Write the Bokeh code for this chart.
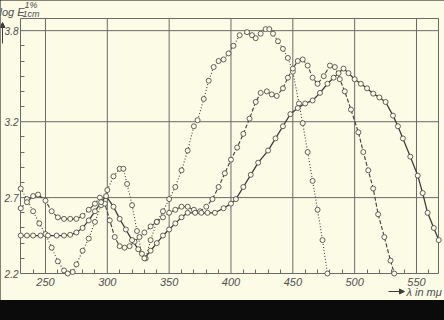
from bokeh.plotting import figure
from bokeh.models import Range1d, FixedTicker, Label, Arrow, NormalHead
from bokeh.embed import file_html
from bokeh.resources import INLINE

# ---- data (wavelength in m\u03bc, log E 1%/1cm) ----
dotted_nm = [230, 235, 240, 245, 250, 255, 260, 265, 268, 272, 275, 280, 285, 290, 295,
             300, 305, 310, 313, 316, 320, 324, 328, 331, 335, 340, 345, 350, 355, 360,
             365, 370, 373, 378, 382, 386, 390, 394, 398, 402, 407, 413, 417, 420, 424,
             428, 431, 434, 438, 442, 446, 450, 455, 458, 462, 466, 470, 474, 478]
dotted_val = [2.76, 2.69, 2.61, 2.53, 2.46, 2.37, 2.28, 2.22, 2.20, 2.21, 2.26, 2.35, 2.43, 2.54, 2.65,
              2.75, 2.84, 2.89, 2.89, 2.79, 2.65, 2.48, 2.33, 2.30, 2.42, 2.54, 2.61, 2.69, 2.77, 2.88,
              3.01, 3.17, 3.21, 3.35, 3.47, 3.56, 3.60, 3.61, 3.65, 3.70, 3.77, 3.79, 3.77, 3.75, 3.78,
              3.81, 3.81, 3.78, 3.73, 3.68, 3.62, 3.53, 3.32, 3.19, 3.00, 2.81, 2.62, 2.42, 2.20]

dashed_nm = [230, 235, 240, 244, 250, 255, 260, 265, 270, 275, 280, 285, 290, 294, 298,
             302, 306, 310, 314, 318, 322, 326, 330, 335, 340, 345, 350, 355, 360, 365,
             370, 375, 380, 385, 390, 395, 400, 405, 410, 415, 420, 424, 429, 433, 437,
             442, 446, 450, 454, 458, 462, 466, 470, 475, 480, 484, 488, 492, 497, 503,
             507, 511, 515, 519, 524, 529, 532]
dashed_val = [2.63, 2.67, 2.71, 2.72, 2.68, 2.61, 2.57, 2.56, 2.56, 2.56, 2.58, 2.62, 2.66, 2.70, 2.66,
              2.55, 2.44, 2.38, 2.37, 2.38, 2.41, 2.44, 2.47, 2.51, 2.54, 2.57, 2.60, 2.62, 2.64, 2.64,
              2.62, 2.61, 2.64, 2.69, 2.77, 2.86, 2.95, 3.03, 3.12, 3.22, 3.33, 3.39, 3.40, 3.38, 3.37,
              3.42, 3.49, 3.55, 3.60, 3.61, 3.57, 3.49, 3.45, 3.50, 3.57, 3.56, 3.48, 3.40, 3.28, 3.13,
              3.00, 2.88, 2.76, 2.59, 2.44, 2.285, 2.20]

solid_nm = [230, 235, 240, 246, 252, 259, 265, 270, 275, 280, 285, 290, 295, 299, 305,
            310, 315, 320, 325, 330, 335, 340, 345, 350, 355, 360, 365, 371, 376, 381,
            387, 394, 400, 404, 410, 416, 422, 430, 436, 442, 448, 454, 460, 466, 472,
            478, 483, 487, 491, 495, 500, 505, 510, 515, 520, 525, 531, 535, 539, 545,
            551, 555, 559, 564, 568]
solid_val = [2.45, 2.45, 2.45, 2.45, 2.45, 2.45, 2.45, 2.455, 2.47, 2.50, 2.55, 2.61, 2.67, 2.71, 2.64,
             2.56, 2.49, 2.42, 2.36, 2.30, 2.35, 2.40, 2.45, 2.49, 2.53, 2.57, 2.60, 2.60, 2.60, 2.60,
             2.60, 2.63, 2.66, 2.69, 2.77, 2.85, 2.93, 3.01, 3.09, 3.17, 3.25, 3.29, 3.32, 3.34, 3.39,
             3.45, 3.49, 3.52, 3.55, 3.52, 3.48, 3.45, 3.42, 3.385, 3.36, 3.33, 3.24, 3.17, 3.09, 2.97,
             2.845, 2.73, 2.60, 2.50, 2.42]

x_ticks = [250, 300, 350, 400, 450, 500, 550]
x_minor = [240, 260, 270, 280, 290, 310, 320, 330, 340, 360, 370, 380, 390, 410, 420, 430, 440,
           460, 470, 480, 490, 510, 520, 530, 540, 560]
y_ticks = [2.2, 2.7, 3.2, 3.8]
y_minor = [2.3, 2.4, 2.5, 2.6, 2.8, 2.9, 3.0, 3.1, 3.3, 3.4, 3.5, 3.6, 3.7]
y_label_main = "log E"
y_label_sup = "1%"
y_label_sub = "1cm"
x_label = "\u03bb in m\u03bc"

BG = "#fcfbe6"
INK = "#3c3c3c"
GRID = "#6a6a6a"
TXT = "#505050"
FONT = "Liberation Sans"

# plotting region (data limits) and the margins around it, in px
X0, X1, Y0, Y1 = 229.8, 567.8, 2.2, 3.88
W, H = 444, 300
ML, MR, MT, MB = 20, 6, 18, 27
kx = (X1 - X0) / (W - ML - MR)
ky = (Y1 - Y0) / (H - MT - MB)

p = figure(width=W, height=H, output_backend="svg", toolbar_location=None,
           x_range=Range1d(X0 - ML * kx, X1 + MR * kx),
           y_range=Range1d(Y0 - MB * ky, Y1 + MT * ky),
           min_border_left=0, min_border_right=0, min_border_top=0, min_border_bottom=0,
           background_fill_color=BG, border_fill_color=BG)
p.title.visible = False
p.outline_line_color = None
p.xgrid.visible = False
p.ygrid.visible = False

# axes pinned to the region's left / bottom edges
p.xaxis.fixed_location = Y0
p.yaxis.fixed_location = X0
p.xaxis.ticker = FixedTicker(ticks=x_ticks, minor_ticks=x_minor)
p.yaxis.ticker = FixedTicker(ticks=y_ticks, minor_ticks=y_minor)
for ax in (p.xaxis, p.yaxis):
    ax.axis_line_color = None
    ax.major_tick_in = 0
    ax.major_tick_out = 0
    ax.minor_tick_in = 4
    ax.minor_tick_out = 0
    ax.minor_tick_line_color = GRID
    ax.major_label_text_font = FONT
    ax.major_label_text_font_style = "italic"
    ax.major_label_text_color = TXT
    ax.major_label_text_font_size = "11px"
p.xaxis.major_label_standoff = 4
p.yaxis.major_label_standoff = 2
p.yaxis.major_label_text_font_size = "10px"

# grid lines and frame of the plotting region
p.segment(x0=x_ticks, y0=[Y0] * len(x_ticks), x1=x_ticks, y1=[Y1] * len(x_ticks),
          line_color=GRID, line_width=1)
p.segment(x0=[X0] * 3, y0=y_ticks[1:], x1=[X1] * 3, y1=y_ticks[1:], line_color=GRID, line_width=1)
p.quad(left=[X0], right=[X1], bottom=[Y0], top=[Y1], fill_color=None, line_color=GRID, line_width=1)

# curves
p.line(dotted_nm, dotted_val, line_color=INK, line_width=1.1, line_dash="1 2")
p.line(dashed_nm, dashed_val, line_color=INK, line_width=1.1, line_dash="4 2")
p.line(solid_nm, solid_val, line_color=INK, line_width=1.3)
for xs, ys in ((dotted_nm, dotted_val), (dashed_nm, dashed_val), (solid_nm, solid_val)):
    p.scatter(xs, ys, marker="circle", size=5, fill_color=BG, line_color=INK, line_width=0.8)

# y axis title with arrow (screen px from the canvas' bottom-left corner)
for txt, sx, sy, fs in ((y_label_main, -1, H - 11.5, "11px"), (y_label_sup, 24, H - 4.5, "9px"),
                        (y_label_sub, 22, H - 13.5, "9px")):
    p.add_layout(Label(x=sx, y=sy, x_units="screen", y_units="screen", text=txt,
                       text_font=FONT, text_font_style="italic", text_font_size=fs,
                       text_color=TXT, text_baseline="middle"))
p.add_layout(Arrow(x_start=2, y_start=H - 43, x_end=2, y_end=H - 22,
                   start_units="screen", end_units="screen", line_color=INK, line_width=1,
                   end=NormalHead(size=5, fill_color=INK, line_color=INK)))

# x axis title with arrow
p.add_layout(Arrow(x_start=388, y_start=H - 291, x_end=404, y_end=H - 291,
                   start_units="screen", end_units="screen", line_color=INK, line_width=1,
                   end=NormalHead(size=5, fill_color=INK, line_color=INK)))
p.add_layout(Label(x=406, y=H - 291, x_units="screen", y_units="screen", text=x_label,
                   text_font=FONT, text_font_style="italic", text_font_size="11px",
                   text_color=TXT, text_baseline="middle"))

html = file_html(p, INLINE)
html = html.replace("</head>", "<style>html,body{background:#0b0b0b;margin:0;}</style></head>", 1)
open("out.html", "w").write(html)
